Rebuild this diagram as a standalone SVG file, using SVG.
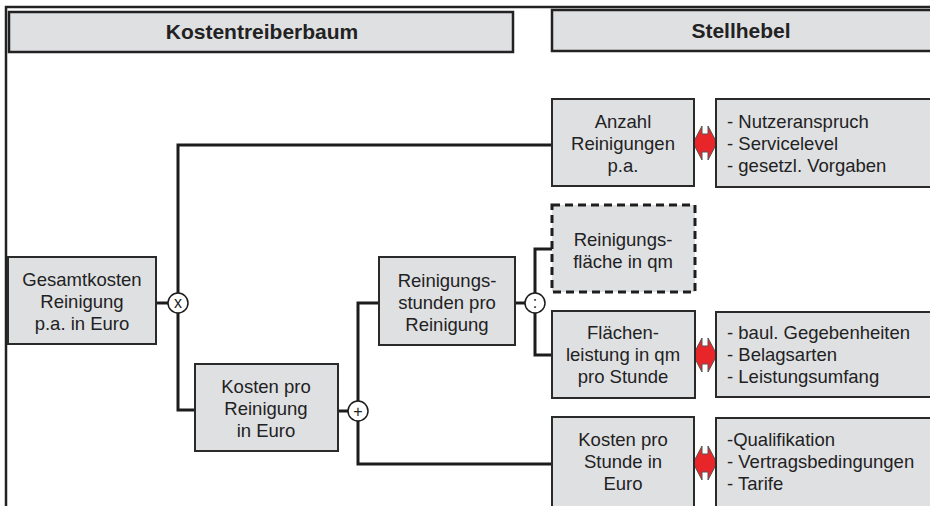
<svg xmlns="http://www.w3.org/2000/svg" width="930" height="506" viewBox="0 0 930 506">
<defs>
<style>
.box{fill:#dfe0e2;stroke:#2a2a2a;stroke-width:2}
.dash{fill:#dfe0e2;stroke:#1e1e1e;stroke-width:3;stroke-dasharray:8 5}
.hdr{fill:#dfe0e2;stroke:#222;stroke-width:2.5}
.ln{fill:none;stroke:#1c1c1c;stroke-width:3}
.op{fill:#fff;stroke:#1c1c1c;stroke-width:1.5}
.t{font-family:"Liberation Sans",Arial,sans-serif;font-size:18.5px;fill:#222;text-anchor:middle}
.l{font-family:"Liberation Sans",Arial,sans-serif;font-size:18.5px;fill:#222}
.h{font-family:"Liberation Sans",Arial,sans-serif;font-size:21px;font-weight:bold;fill:#222;text-anchor:middle}
.o{font-family:"Liberation Sans",Arial,sans-serif;font-size:16px;fill:#222;text-anchor:middle}
.arr{fill:#e8262a;stroke:#555;stroke-width:1}
</style>
</defs>
<g id="frame">
<line x1="5" y1="7" x2="930" y2="7" stroke="#222" stroke-width="2.5"/>
<line x1="6" y1="6" x2="6" y2="506" stroke="#222" stroke-width="2.5"/>
</g>
<g id="header-kostentreiberbaum">
<rect class="hdr" x="9" y="12" width="504" height="40"/>
<text class="h" x="262" y="39">Kostentreiberbaum</text>
</g>
<g id="header-stellhebel">
<rect class="hdr" x="552" y="10" width="390" height="41"/>
<text class="h" x="741" y="38">Stellhebel</text>
</g>
<g id="connectors">
<path class="ln" d="M156,303 H178"/>
<path class="ln" d="M195,410 H178 V145 H552"/>
<path class="ln" d="M338,411 H358"/>
<path class="ln" d="M379,303 H358 V464 H552"/>
<path class="ln" d="M515,303 H535"/>
<path class="ln" d="M552,249 H535 V355 H552"/>
<path class="arr" d="M693,143 L702,126 L702,134 L708,134 L708,126 L717,143 L708,160 L708,152 L702,152 L702,160 Z"/>
<path class="arr" d="M693,355 L702,338 L702,346 L708,346 L708,338 L717,355 L708,372 L708,364 L702,364 L702,372 Z"/>
<path class="arr" d="M693,463 L702,446 L702,454 L708,454 L708,446 L717,463 L708,480 L708,472 L702,472 L702,480 Z"/>
</g>
<g id="op-mult">
<circle class="op" cx="178" cy="303" r="10"/>
<text class="o" x="178" y="308">x</text>
</g>
<g id="op-div">
<circle class="op" cx="535" cy="303" r="10"/>
<text class="o" x="535" y="308">:</text>
</g>
<g id="op-plus">
<circle class="op" cx="358" cy="411" r="10"/>
<text class="o" x="358" y="417">+</text>
</g>
<g id="gesamtkosten">
<rect class="box" x="8" y="257" width="148" height="87"/>
<text class="t" x="82" y="286">Gesamtkosten</text>
<text class="t" x="82" y="308">Reinigung</text>
<text class="t" x="82" y="330">p.a. in Euro</text>
</g>
<g id="anzahl">
<rect class="box" x="552" y="99" width="142" height="87"/>
<text class="t" x="623" y="128">Anzahl</text>
<text class="t" x="623" y="150">Reinigungen</text>
<text class="t" x="623" y="172">p.a.</text>
</g>
<g id="hebel-anzahl">
<rect class="box" x="716" y="99" width="230" height="88"/>
<text class="l" x="727" y="128">- Nutzeranspruch</text>
<text class="l" x="727" y="150">- Servicelevel</text>
<text class="l" x="727" y="172">- gesetzl. Vorgaben</text>
</g>
<g id="flaeche">
<rect class="dash" x="552" y="205" width="143" height="87"/>
<text class="t" x="623" y="246">Reinigungs-</text>
<text class="t" x="623" y="268">fläche in qm</text>
</g>
<g id="stunden">
<rect class="box" x="379" y="257" width="136" height="88"/>
<text class="t" x="447" y="287">Reinigungs-</text>
<text class="t" x="447" y="309">stunden pro</text>
<text class="t" x="447" y="331">Reinigung</text>
</g>
<g id="leistung">
<rect class="box" x="552" y="311" width="143" height="87"/>
<text class="t" x="623" y="339">Flächen-</text>
<text class="t" x="623" y="361">leistung in qm</text>
<text class="t" x="623" y="383">pro Stunde</text>
</g>
<g id="hebel-leistung">
<rect class="box" x="716" y="312" width="230" height="85"/>
<text class="l" x="727" y="339">- baul. Gegebenheiten</text>
<text class="l" x="727" y="361">- Belagsarten</text>
<text class="l" x="727" y="383">- Leistungsumfang</text>
</g>
<g id="kosten-reinigung">
<rect class="box" x="195" y="364" width="143" height="87"/>
<text class="t" x="266" y="393">Kosten pro</text>
<text class="t" x="266" y="415">Reinigung</text>
<text class="t" x="266" y="437">in Euro</text>
</g>
<g id="kosten-stunde">
<rect class="box" x="552" y="417" width="142" height="100"/>
<text class="t" x="623" y="446">Kosten pro</text>
<text class="t" x="623" y="468">Stunde in</text>
<text class="t" x="623" y="490">Euro</text>
</g>
<g id="hebel-stunde">
<rect class="box" x="716" y="418" width="230" height="100"/>
<text class="l" x="727" y="446">-Qualifikation</text>
<text class="l" x="727" y="468">- Vertragsbedingungen</text>
<text class="l" x="727" y="490">- Tarife</text>
</g>
</svg>
